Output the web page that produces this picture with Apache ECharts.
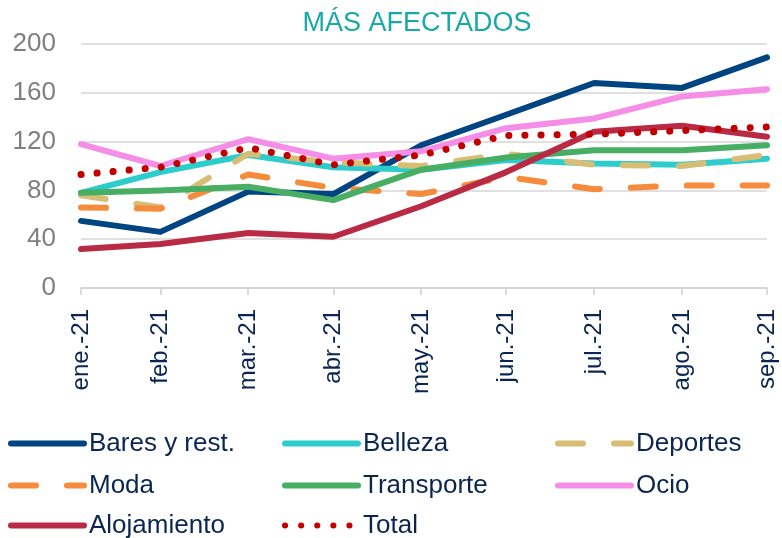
<!DOCTYPE html>
<html>
<head>
<meta charset="utf-8">
<script src="https://cdn.jsdelivr.net/npm/echarts@6/dist/echarts.min.js"></script>
<style>
    html, body { margin: 0; padding: 0; background: #fff; }
    #chart { width: 782px; height: 538px; }
</style>
</head>
<body>
<div id="chart"></div>
<script>
    //categorias (fin de mes) y valores
    var meses = ['ene.-21', 'feb.-21', 'mar.-21', 'abr.-21', 'may.-21', 'jun.-21', 'jul.-21', 'ago.-21', 'sep.-21'];
    var fechas = ['2021-01-31', '2021-02-28', '2021-03-31', '2021-04-30', '2021-05-31', '2021-06-30', '2021-07-31', '2021-08-31', '2021-09-30'];
    var bares = [55, 46, 79, 77, 117, 142, 168, 164, 189];
    var belleza = [78, 95, 109, 99, 97, 105, 102, 101, 106];
    var deportes = [76, 66, 110, 103, 100, 110, 101, 100, 109];
    var moda = [66, 65, 93, 82, 77, 91, 81, 84, 84];
    var transporte = [78, 80, 83, 72, 97, 107, 113, 113, 117];
    var ocio = [118, 100, 122, 106, 112, 131, 139, 157, 163];
    var alojamiento = [32, 36, 45, 42, 67, 95, 128, 133, 124];
    var total = [93, 99, 115, 101, 109, 125, 126, 129, 132];
    var yTicks = [0, 40, 80, 120, 160, 200];

    var font = '"Liberation Sans", Arial, sans-serif';
    var navy = '#0a2550';

    //dia del año de cada fecha (eje de fechas como en Excel)
    function dia(s) {
        var p = s.split('-');
        return Math.round((Date.UTC(+p[0], +p[1] - 1, +p[2]) - Date.UTC(+p[0], 0, 1)) / 86400000);
    }
    var dias = fechas.map(dia);

    function serie(name, data, color, type, width) {
        return {
            name: name,
            type: 'line',
            data: data.map(function (v, i) { return [dias[i], v]; }),
            symbol: 'none',
            lineStyle: {
                color: color,
                width: width || 6,
                type: type || 'solid',
                cap: 'round',
                join: 'round'
            },
            itemStyle: { color: color }
        };
    }

    //una leyenda por elemento, en 3 columnas
    var colX = [8, 282, 555];
    var filaY = [430, 472, 512];
    var orden = ['Bares y rest.', 'Belleza', 'Deportes', 'Moda', 'Transporte', 'Ocio', 'Alojamiento', 'Total'];
    var leyendas = orden.map(function (name, i) {
        return {
            left: colX[i % 3],
            top: filaY[Math.floor(i / 3)],
            padding: 0,
            itemWidth: 73,
            itemHeight: 6,
            lineStyle: { width: 6 },
            itemStyle: { opacity: 0 },
            textStyle: {
                color: navy,
                fontSize: 26,
                lineHeight: 27,
                fontFamily: font
            },
            data: [name]
        };
    });

    var chart = echarts.init(document.getElementById('chart'));
    var option = {
        animation: false,
        title: {
            text: 'MÁS AFECTADOS',
            left: 412,
            textAlign: 'center',
            top: 5,
            textStyle: {
                color: '#17a9a7',
                fontSize: 27,
                fontWeight: 'normal',
                fontFamily: font
            }
        },
        grid: {
            left: 81,
            right: 15,
            top: 44,
            bottom: 250
        },
        legend: leyendas,
        xAxis: {
            type: 'value',
            min: dias[0],
            max: dias[dias.length - 1],
            splitLine: { show: false },
            axisLine: { lineStyle: { color: '#d0d0d0', width: 1.5 } },
            axisTick: {
                show: true,
                length: 7,
                customValues: dias,
                lineStyle: { color: '#d0d0d0', width: 1.5 }
            },
            axisLabel: {
                rotate: 90,
                margin: 21,
                color: navy,
                fontSize: 24,
                fontFamily: font,
                customValues: dias,
                formatter: function (v) {
                    var i = dias.indexOf(v);
                    return i >= 0 ? meses[i] : '';
                }
            }
        },
        yAxis: {
            type: 'value',
            min: yTicks[0],
            max: yTicks[yTicks.length - 1],
            interval: 40,
            axisLine: { show: false },
            axisTick: { show: false },
            splitLine: { lineStyle: { color: '#d6d6d6', width: 1.5 } },
            axisLabel: {
                margin: 25,
                color: '#7f7f7f',
                fontSize: 26,
                fontFamily: font
            }
        },
        series: [
            serie('Bares y rest.', bares, '#004481'),
            serie('Belleza', belleza, '#2dcccd'),
            serie('Deportes', deportes, '#d8be75', [25, 31]),
            serie('Moda', moda, '#f68b3c', [25, 31]),
            serie('Transporte', transporte, '#48ae64'),
            serie('Ocio', ocio, '#f58ee6'),
            serie('Alojamiento', alojamiento, '#b92a45'),
            serie('Total', total, '#c00000', [0.1, 16], 7)
        ]
    };
    chart.setOption(option);
</script>
</body>
</html>
